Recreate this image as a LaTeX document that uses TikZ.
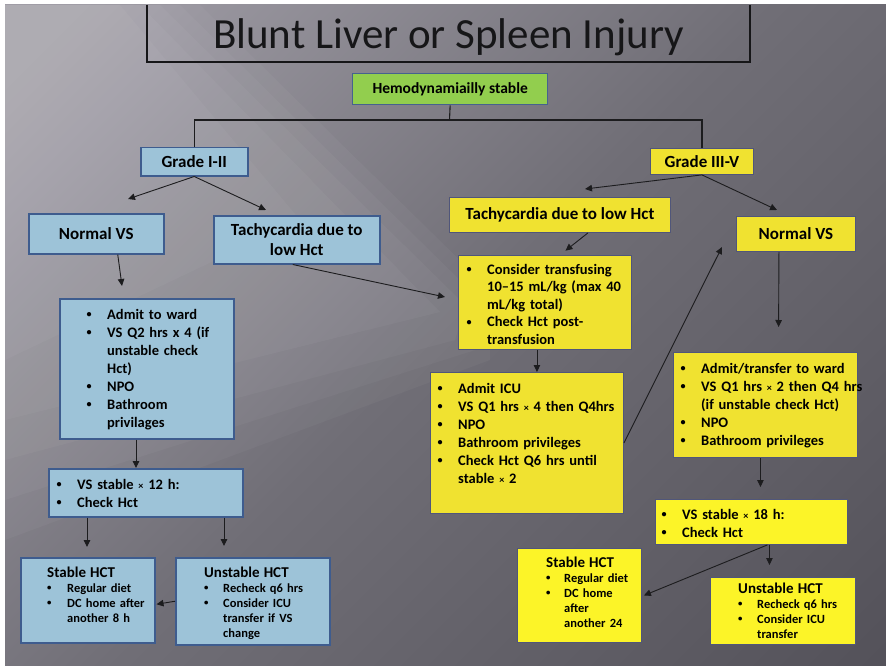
\documentclass[tikz,border=0pt]{standalone}
\usepackage{fontspec}
\usepackage{graphicx}
\setmainfont{Carlito}
\usetikzlibrary{arrows.meta,calc}

\definecolor{bluefill}{RGB}{157,195,216}
\definecolor{blueedge}{RGB}{62,92,142}
\definecolor{yelA}{RGB}{240,226,48}
\definecolor{yelB}{RGB}{252,244,40}
\definecolor{yeledge}{RGB}{80,86,122}
\definecolor{grnfill}{RGB}{146,206,78}
\definecolor{grnedge}{RGB}{70,98,142}
\definecolor{lineC}{RGB}{28,28,30}
\definecolor{titleC}{RGB}{22,22,24}
\definecolor{bgA}{RGB}{160,157,166}
\definecolor{bgB}{RGB}{112,110,118}
\definecolor{bgC}{RGB}{84,82,90}

\pgfdeclarehorizontalshading{bgshade}{100bp}{color(0bp)=(bgA); color(18bp)=(bgA); color(50bp)=(bgB); color(85bp)=(bgC); color(100bp)=(bgC)}

\newcommand{\bul}[2]{\par\noindent\hangindent=#1pt\hangafter=1\makebox[#1pt][l]{\raisebox{0.1em}{\scalebox{0.7}{\textbullet}}}\rule{0pt}{0.75em}#2}
\newcommand{\hdr}[2]{\par\noindent{\fontsize{#1}{#1}\selectfont\rule{0pt}{0.75em}#2}}
\newcommand{\tms}{\scalebox{0.7}{×}}
\newcommand{\rbox}[7]{\node[#1, minimum width={#5-#3}, minimum height={#6-#4}] (#2) at (#3,#4) {#7};}

\tikzset{
  bx/.style={anchor=north west, inner sep=0pt, align=center, text=black,
             font=\fontsize{17}{20}\selectfont\bfseries},
  bluebx/.style={bx, draw=blueedge, line width=1.5pt, fill=bluefill},
  yelbx/.style={bx, draw=yeledge, line width=0.9pt, fill=yelA},
  yelbxB/.style={yelbx, fill=yelB},
  grnbx/.style={bx, draw=grnedge, line width=1.3pt, fill=grnfill,
             font=\fontsize{15.5}{18}\selectfont\bfseries},
  arr/.style={draw=lineC, line width=0.9pt, -{Triangle[length=7pt,width=6.5pt]}},
  conn/.style={draw=lineC, line width=1.1pt},
  txt/.style={anchor=north west, inner sep=0pt, text width=240pt, text=black,
             execute at begin node={\raggedright\let\\\newline}},
  bigt/.style={txt, font=\fontsize{14.5}{18}\selectfont\bfseries},
  smallt/.style={txt, font=\fontsize{12.5}{15}\selectfont\bfseries},
  glow/.style={fill=white, opacity=0.035},
}

\begin{document}
\begin{tikzpicture}[x=1pt,y=-1pt]
\useasboundingbox (0,0) rectangle (886,666);
\fill[white] (0,0) rectangle (886,666);
\shade[shading=bgshade, shading angle=-45] (5,5) rectangle (886,666);
\fill[glow] (5,5) -- (200,5) -- (490,290) -- (490,360) -- (5,540) -- cycle;
\fill[glow] (5,5) -- (180,5) -- (480,300) -- (475,350) -- (5,500) -- cycle;
\fill[glow] (5,5) -- (160,5) -- (465,305) -- (455,340) -- (5,460) -- cycle;
\fill[glow] (5,5) -- (140,5) -- (440,312) -- (5,420) -- cycle;
\fill[glow] (5,5) -- (120,5) -- (300,220) -- (5,360) -- cycle;

% title
\draw[draw=titleC, line width=2pt] (147,5) -- (147,62) -- (750,62) -- (750,5);
\node[anchor=base, inner sep=0pt, text=titleC, font=\fontsize{43}{46}\selectfont] (title) at (448.5,49) {Blunt Liver or Spleen Injury};

% top boxes
\rbox{grnbx}{hemo}{352}{73}{547}{104}{Hemodynamiailly stable}
\rbox{bluebx}{g12}{140}{147}{247}{175}{Grade I-II}
\rbox{yelbx}{g35}{650}{148}{753}{174}{Grade III-V}

% left branch
\rbox{bluebx}{nvsL}{28}{213}{163}{253}{Normal VS}
\rbox{bluebx}{tachyL}{213}{215}{379}{263}{Tachycardia due to\\low Hct}
\rbox{bluebx}{ward}{59}{298}{233}{438}{}
\rbox{bluebx}{vs12}{48}{468}{242}{516}{}
\rbox{bluebx}{stL}{20}{557}{154}{642}{}
\rbox{bluebx}{unL}{175}{557}{329}{644}{}

\node[bigt] (wardT) at (86.5,301) {\bul{20.5}{Admit to ward}\bul{20.5}{VS Q2 hrs x 4 (if\\unstable check\\Hct)}\bul{20.5}{NPO}\bul{20.5}{Bathroom\\privilages}\par};
\node[bigt] (vs12T) at (56.4,471) {\bul{20.6}{VS stable \tms{} 12 h:}\bul{20.6}{Check Hct}\par};
\node[smallt] (stLT) at (47,562) {\hdr{15}{Stable HCT}\bul{20}{Regular diet}\bul{20}{DC home after\\another 8 h}\par};
\node[smallt] (unLT) at (204,562) {\hdr{15}{Unstable HCT}\bul{19}{Recheck q6 hrs}\bul{19}{Consider ICU\\transfer if VS\\change}\par};

% right branch
\rbox{yelbx}{tachyR}{449}{197}{670}{232}{Tachycardia due to low Hct}
\rbox{yelbx}{nvsR}{736}{216}{855}{251}{Normal VS}
\rbox{yelbx}{trans}{458}{255}{631}{349}{}
\rbox{yelbx}{icu}{430}{372}{623}{513}{}
\rbox{yelbx}{adm}{673}{352}{857}{457}{}
\rbox{yelbxB}{vs18}{655}{499}{847}{544}{}
\rbox{yelbxB}{stR}{517}{548}{641}{642}{}
\rbox{yelbxB}{unR}{710}{577}{855}{644}{}

\node[bigt, font=\fontsize{14.5}{17.5}\selectfont\bfseries] (transT) at (466.4,256.5) {\bul{20.6}{Consider transfusing\\10–15 mL/kg (max 40\\mL/kg total)}\bul{20.6}{Check Hct post-\\transfusion}\par};
\node[bigt] (icuT) at (437.4,375) {\bul{20.6}{Admit ICU}\bul{20.6}{VS Q1 hrs \tms{} 4 then Q4hrs}\bul{20.6}{NPO}\bul{20.6}{Bathroom privileges}\bul{20.6}{Check Hct Q6 hrs until\\stable \tms{} 2}\par};
\node[bigt] (admT) at (680.4,355) {\bul{20.6}{Admit/transfer to ward}\bul{20.6}{VS Q1 hrs \tms{} 2 then Q4 hrs\\(if unstable check Hct)}\bul{20.6}{NPO}\bul{20.6}{Bathroom privileges}\par};
\node[bigt] (vs18T) at (661.4,501) {\bul{20.6}{VS stable \tms{} 18 h:}\bul{20.6}{Check Hct}\par};
\node[smallt] (stRT) at (546,552) {\hdr{15}{Stable HCT}\bul{18}{Regular diet}\bul{18}{DC home\\after\\another 24}\par};
\node[smallt] (unRT) at (738,578) {\hdr{15}{Unstable HCT}\bul{19}{Recheck q6 hrs}\bul{19}{Consider ICU\\transfer}\par};

% tree from top
\coordinate (hj) at (449.5,120);
\draw[conn] (hemo.south) -- (hj);
\draw[conn] (g12.north) |- (hj) -| (g35.north);

% free arrow ends
\coordinate (tA) at (128,199);
\coordinate (tB) at (266,210);
\coordinate (tC) at (585,189);
\coordinate (tD) at (777,210);
\coordinate (tE) at (122,286);
\coordinate (tF) at (445,297);
\coordinate (tG) at (722,247);

\draw[arr] (g12.south) -- (tA);
\draw[arr] (g12.south) -- (tB);
\draw[arr] (g35.south) -- (tC);
\draw[arr] (g35.south) -- (tD);
\draw[arr] (nvsL.-44) -- (tE);
\draw[arr] ($(tachyL.south)+(-4,0)$) -- (tF);
\draw[arr] ($(ward.south west)+(77,0)$) -- ($(vs12.north west)+(88,0)$);
\draw[arr, shorten >=10pt] ($(vs12.south west)+(39,0)$) -- ($(stL.north west)+(67,0)$);
\draw[arr, shorten >=11pt] ($(vs12.south west)+(176,0)$) -- ($(unL.north west)+(49,0)$);
\draw[arr] (unL.west) -- ($(stL.east)+(1,4)$);

\draw[arr, shorten >=7pt] ($(tachyR.south)+(28,0)$) -- ($(trans.north)+(15,0)$);
\draw[arr] ($(trans.south)+(-8,0)$) -- ($(icu.north)+(10,0)$);
\draw[arr] (icu.east) -- (tG);
\draw[arr, shorten >=25pt] ($(nvsR.south)+(-17,0)$) -- ($(adm.north)+(13,0)$);
\draw[arr, shorten >=12pt] ($(adm.south)+(-5,0)$) -- ($(vs18.north)+(9,0)$);
\draw[arr, shorten >=12pt] ($(vs18.south)+(18,0)$) -- ($(unR.north)+(-13.5,0)$);
\draw[arr] ($(vs18.south)+(16,0)$) -- ($(stR.east)+(2,0)$);
\end{tikzpicture}
\end{document}
